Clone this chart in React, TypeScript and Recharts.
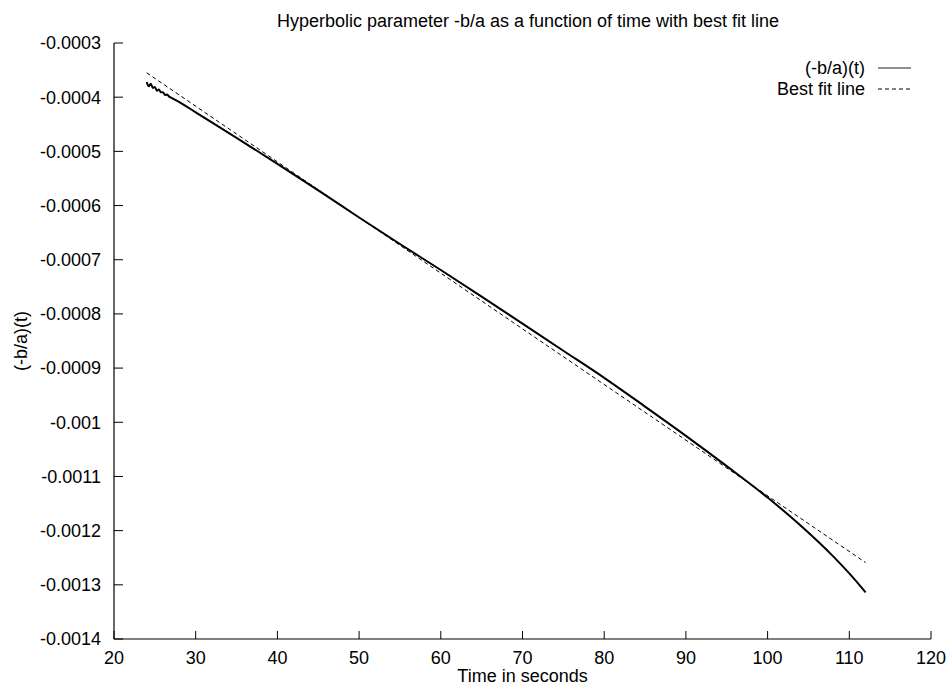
import { LineChart, Line, XAxis, YAxis, Legend } from 'recharts';

const FONT = '"Liberation Sans", Arial, Helvetica, sans-serif';

// (-b/a)(t) (noisy at the start)
const curveTime = [
  24, 24.25, 24.5, 24.75, 25, 25.25, 25.5, 25.75, 26, 26.25, 26.5, 26.75, 27, 27.5, 28,
  30, 35, 40, 45, 50, 55, 60, 65, 70, 75, 80, 85, 90, 95, 100, 104, 108, 110, 112,
];
const curveValue = [
  -0.000372, -0.00038, -0.000375, -0.000383, -0.000381, -0.000388, -0.000386, -0.000391,
  -0.000391, -0.000396, -0.000395, -0.000399, -0.000401, -0.000405, -0.000409,
  -0.000428, -0.000475, -0.000523, -0.000572, -0.000622, -0.000671, -0.000719, -0.000768,
  -0.000818, -0.000868, -0.000918, -0.000971, -0.001025, -0.001081, -0.001139, -0.00119,
  -0.001247, -0.001279, -0.001314,
];

// best fit line end points
const fitTime = [24, 112];
const fitValue = [-0.000355, -0.001259];

const xTicks = [20, 30, 40, 50, 60, 70, 80, 90, 100, 110, 120];
const yTicks = [
  -0.0014, -0.0013, -0.0012, -0.0011, -0.001, -0.0009, -0.0008, -0.0007, -0.0006, -0.0005,
  -0.0004, -0.0003,
];

const curveData = curveTime.map((t, i) => ({ t, v: curveValue[i] }));
const fitData = fitTime.map((t, i) => ({ t, v: fitValue[i] }));

const fmtY = (v: number) => String(Number(v.toFixed(4)));

function LegendBox() {
  const rows = [
    { label: '(-b/a)(t)', dash: undefined as string | undefined, color: '#222', w: 1.2 },
    { label: 'Best fit line', dash: '4 3', color: '#000', w: 1 },
  ];
  return (
    <div style={{ fontFamily: FONT, fontSize: 18, color: '#000' }}>
      {rows.map((r) => (
        <div
          key={r.label}
          style={{ display: 'flex', justifyContent: 'flex-end', alignItems: 'center', height: 20.5 }}
        >
          <span style={{ lineHeight: '20.5px' }}>{r.label}</span>
          <svg width={33} height={10} style={{ marginLeft: 13 }}>
            <line x1={0} x2={33} y1={5} y2={5} stroke={r.color} strokeWidth={r.w} strokeDasharray={r.dash} />
          </svg>
        </div>
      ))}
    </div>
  );
}

const labelStyle = {
  position: 'absolute' as const,
  whiteSpace: 'nowrap' as const,
  fontFamily: FONT,
  fontSize: 18,
  lineHeight: '14px',
};

export default function App() {
  return (
    <div style={{ position: 'absolute', left: 0, top: 0, width: 951, height: 687, background: '#fff' }}>
      <div style={{ ...labelStyle, left: 528, top: 13.5, transform: 'translateX(-50%)' }}>
        Hyperbolic parameter -b/a as a function of time with best fit line
      </div>
      <div style={{ ...labelStyle, left: 522.5, top: 668.5, transform: 'translateX(-50%)' }}>
        Time in seconds
      </div>
      <div
        style={{
          ...labelStyle,
          lineHeight: '18px',
          left: 21,
          top: 341,
          transform: 'translate(-50%, -50%) rotate(-90deg)',
        }}
      >
        (-b/a)(t)
      </div>
      <LineChart width={951} height={687} margin={{ top: 43, right: 20, bottom: 0, left: 0 }}>
        <XAxis
          dataKey="t"
          type="number"
          domain={[20, 120]}
          ticks={xTicks}
          allowDataOverflow
          height={48}
          tickSize={-8}
          tickMargin={20.5}
          axisLine={{ stroke: '#000', strokeWidth: 1.2 }}
          tickLine={{ stroke: '#000' }}
          tick={{ fill: '#000', fontSize: 18, fontFamily: FONT }}
        />
        <XAxis
          xAxisId="top"
          orientation="top"
          type="number"
          domain={[20, 120]}
          ticks={xTicks}
          allowDataOverflow
          height={0}
          tickSize={-8}
          tick={false}
          axisLine={{ stroke: '#000', strokeWidth: 1.2 }}
          tickLine={{ stroke: '#000' }}
        />
        <YAxis
          type="number"
          domain={[-0.0014, -0.0003]}
          ticks={yTicks}
          allowDataOverflow
          width={114}
          tickSize={-9}
          tickMargin={22}
          tickFormatter={fmtY}
          axisLine={{ stroke: '#000', strokeWidth: 1.2 }}
          tickLine={{ stroke: '#000' }}
          tick={{ fill: '#000', fontSize: 18, fontFamily: FONT }}
        />
        <YAxis
          yAxisId="right"
          orientation="right"
          type="number"
          domain={[-0.0014, -0.0003]}
          ticks={yTicks}
          allowDataOverflow
          width={0}
          tickSize={-9}
          tick={false}
          axisLine={{ stroke: '#000', strokeWidth: 1.2 }}
          tickLine={{ stroke: '#000' }}
        />
        <Legend
          layout="vertical"
          align="center"
          verticalAlign="middle"
          content={() => <LegendBox />}
          wrapperStyle={{ left: 560, top: 58, width: 351, right: 'auto', bottom: 'auto' }}
        />
        <Line
          data={curveData}
          dataKey="v"
          name="(-b/a)(t)"
          type="monotone"
          stroke="#000"
          strokeWidth={2}
          dot={false}
          isAnimationActive={false}
        />
        <Line
          data={fitData}
          dataKey="v"
          name="Best fit line"
          type="linear"
          stroke="#000"
          strokeWidth={1}
          strokeDasharray="4 3"
          dot={false}
          isAnimationActive={false}
        />
      </LineChart>
    </div>
  );
}
